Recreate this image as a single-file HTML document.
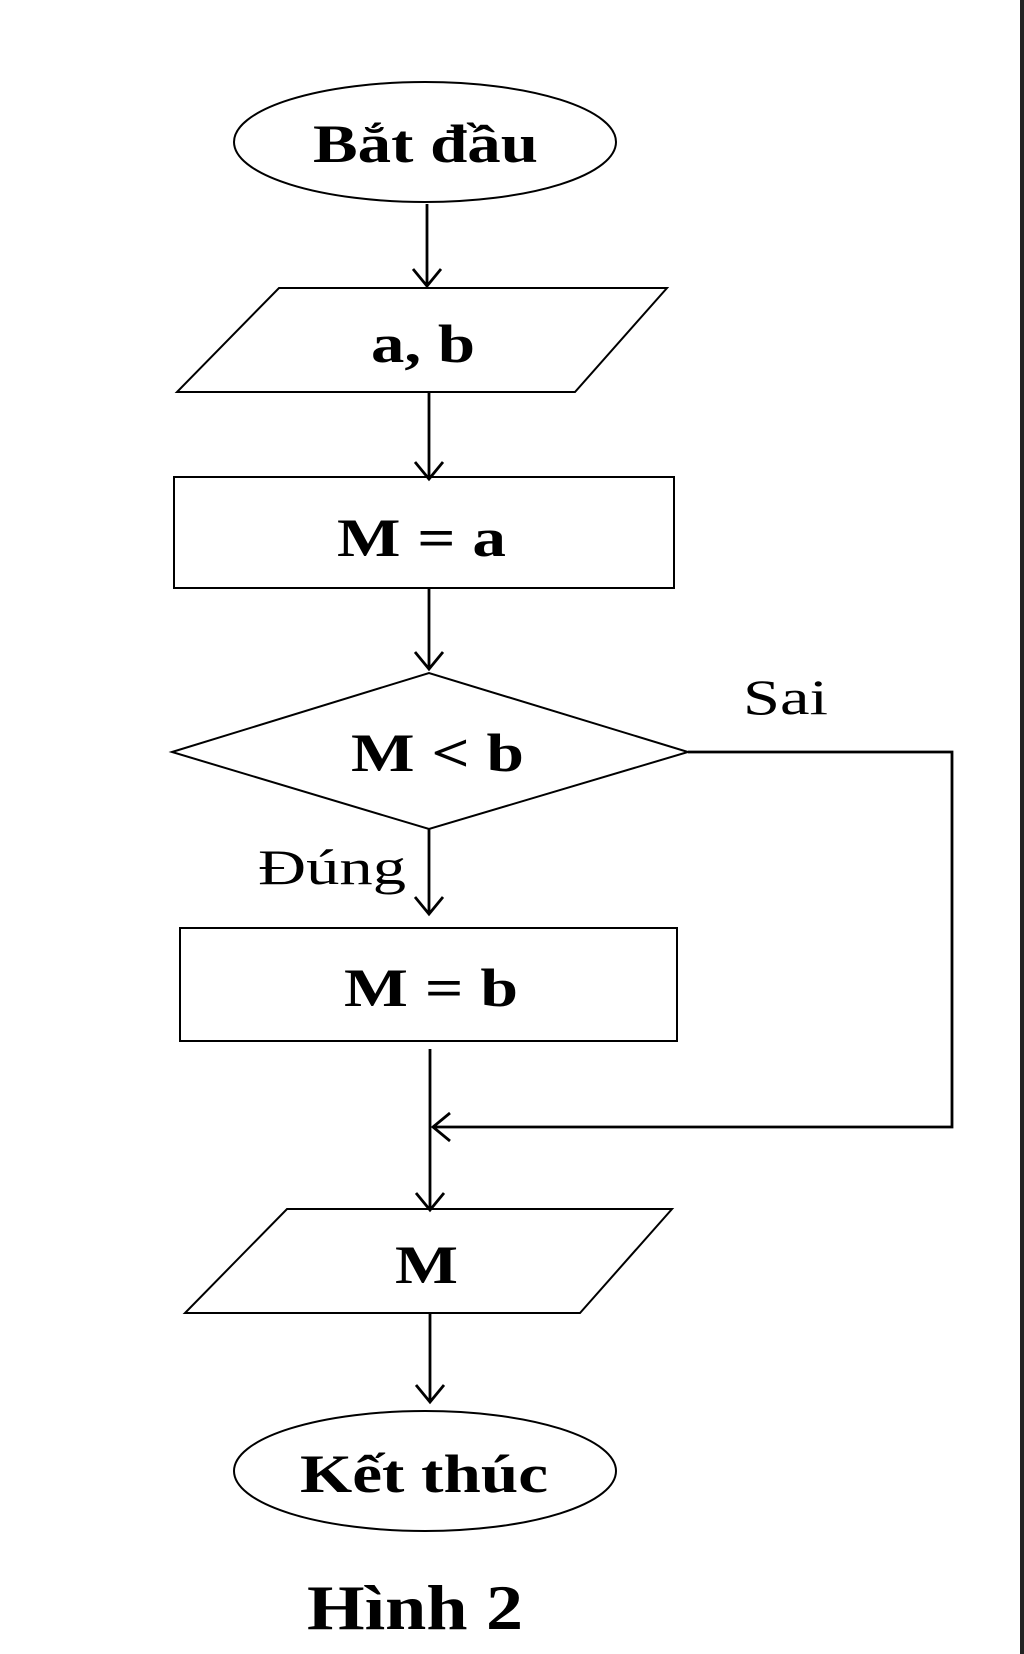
<!DOCTYPE html>
<html><head><meta charset="utf-8"><style>
html,body{margin:0;padding:0;background:#fff;}
svg{display:block;}
text{font-family:"Liberation Serif",serif;}
</style></head><body>
<svg width="1024" height="1654" viewBox="0 0 1024 1654" xmlns="http://www.w3.org/2000/svg">
<rect x="1020" y="0" width="4" height="1654" fill="#222"/>
<g fill="none" stroke="#000" stroke-width="2">
<ellipse cx="425" cy="142" rx="191" ry="60"/>
<polygon points="279,288 667,288 575,392 177,392"/>
<rect x="174" y="477" width="500" height="111"/>
<polygon points="172,752 429,673 688,752 429,829"/>
<rect x="180" y="928" width="497" height="113"/>
<polygon points="287,1209 672,1209 580,1313 185,1313"/>
<ellipse cx="425" cy="1471" rx="191" ry="60"/>
</g>
<g stroke="#000" stroke-width="2.8" fill="none">
<path d="M427,204 V285 M413,269 L427,286 L441,269"/>
<path d="M429,392 V478 M415,462 L429,479 L443,462"/>
<path d="M429,588 V668 M415,652 L429,669 L443,652"/>
<path d="M429,829 V913 M415,897 L429,914 L443,897"/>
<path d="M430,1049 V1209 M416,1193 L430,1210 L444,1193"/>
<path d="M430,1313 V1401 M416,1385 L430,1402 L444,1385"/>
<path d="M688,752 H952 V1127 H434 M450,1113 L433,1127 L450,1141"/>
</g>
<g font-weight="bold" font-size="54" fill="#000" lengthAdjust="spacingAndGlyphs">
<text x="313" y="162" textLength="225" lengthAdjust="spacingAndGlyphs">Bắt đầu</text>
<text x="371" y="362" textLength="104" lengthAdjust="spacingAndGlyphs">a, b</text>
<text x="337" y="556" textLength="169" lengthAdjust="spacingAndGlyphs">M = a</text>
<text x="351" y="771" textLength="173" lengthAdjust="spacingAndGlyphs">M &lt; b</text>
<text x="344" y="1006" textLength="174" lengthAdjust="spacingAndGlyphs">M = b</text>
<text x="395" y="1283" textLength="63" lengthAdjust="spacingAndGlyphs">M</text>
<text x="300" y="1492" textLength="248" lengthAdjust="spacingAndGlyphs">Kết thúc</text>
<text x="307" y="1629" font-size="64" textLength="216" lengthAdjust="spacingAndGlyphs">Hình 2</text>
</g>
<g font-size="50" fill="#000">
<text x="743" y="714" textLength="85" lengthAdjust="spacingAndGlyphs">Sai</text>
<text x="258" y="884" textLength="148" lengthAdjust="spacingAndGlyphs">Đúng</text>
</g>
</svg>
</body></html>
